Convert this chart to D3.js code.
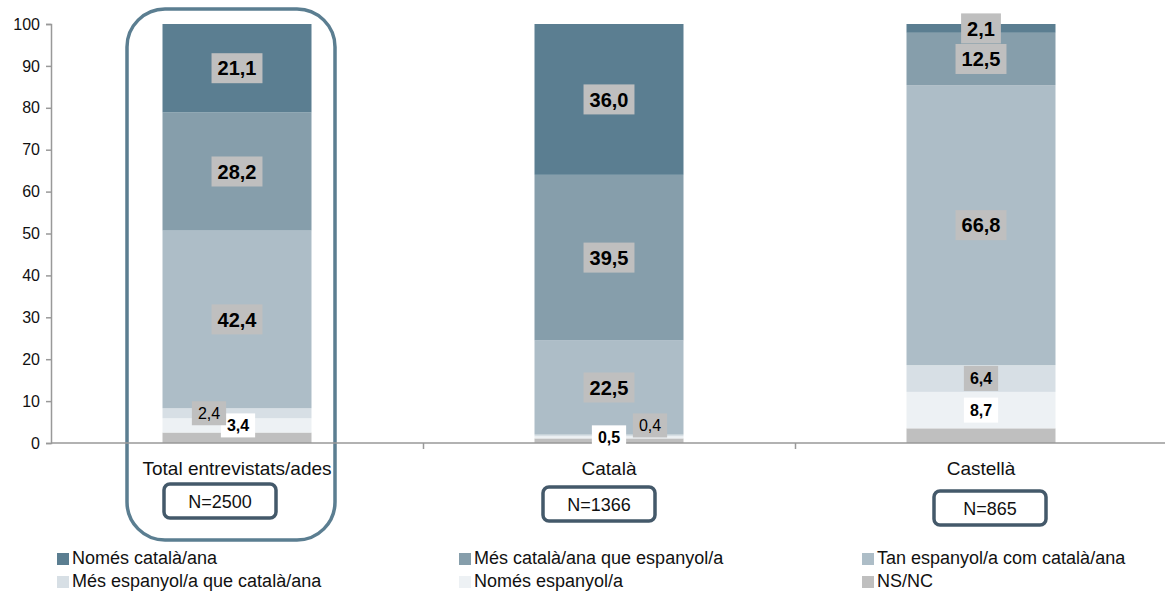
<!DOCTYPE html>
<html>
<head>
<meta charset="utf-8">
<script src="https://cdn.jsdelivr.net/npm/d3@7/dist/d3.min.js"></script>
<style>
  html, body { margin: 0; padding: 0; background: #fff; }
  svg { display: block; font-family: "Liberation Sans", Arial, sans-serif; }
</style>
</head>
<body>
<svg id="chart" width="1165" height="591"></svg>
<script>
// ---- Data ----
const categories = ["Total entrevistats/ades", "Català", "Castellà"];
const sampleSizes = ["N=2500", "N=1366", "N=865"];
const seriesNames = ["Només català/ana", "Més català/ana que espanyol/a", "Tan espanyol/a com català/ana",
                     "Més espanyol/a que català/ana", "Només espanyol/a", "NS/NC"];
const nomesCatala   = [21.1, 36.0, 2.1];
const mesCatala     = [28.2, 39.5, 12.5];
const tanEspCat     = [42.4, 22.5, 66.8];
const mesEspanyol   = [2.4, 0.4, 6.4];
const nomesEspanyol = [3.4, 0.5, 8.7];
const nsnc          = [2.5, 1.1, 3.5];
const yTicks = [0, 10, 20, 30, 40, 50, 60, 70, 80, 90, 100];

// ---- Styles ----
const colors = ["#5b7e91", "#869eab", "#adbdc7", "#d7dfe5", "#edf1f4", "#bfbfbf"];
const seriesValues = [nomesCatala, mesCatala, tanEspCat, mesEspanyol, nomesEspanyol, nsnc];
// stacking order bottom -> top
const stackOrder = [5, 4, 3, 2, 1, 0];

const svg = d3.select("#chart");
const W = 1165, H = 591;
svg.append("rect").attr("width", W).attr("height", H).attr("fill", "#fff");

const x = d3.scaleBand().domain(categories).range([51, 1167]).paddingInner(0).paddingOuter(0);
const y = d3.scaleLinear().domain([0, 100]).range([443, 24]);
const barW = 149;

// rows for stack
const rows = categories.map((c, i) => {
  const r = { cat: c };
  seriesNames.forEach((s, k) => r[s] = seriesValues[k][i]);
  return r;
});
const stack = d3.stack().keys(stackOrder.map(k => seriesNames[k]));
const stacked = stack(rows);

// Highlight rounded rect around first category
const c0 = x(categories[0]) + x.bandwidth() / 2;
svg.append("rect")
  .attr("x", c0 - 110).attr("y", 9).attr("width", 208).attr("height", 531)
  .attr("rx", 38).attr("ry", 38)
  .attr("fill", "none").attr("stroke", "#5b7e91").attr("stroke-width", 3.5);

// Bars
const gBars = svg.append("g");
stacked.forEach(layer => {
  const k = seriesNames.indexOf(layer.key);
  gBars.selectAll(null).data(layer).enter().append("rect")
    .attr("x", d => x(d.data.cat) + x.bandwidth() / 2 - barW / 2)
    .attr("width", barW)
    .attr("y", d => y(d[1]))
    .attr("height", d => y(d[0]) - y(d[1]))
    .attr("fill", colors[k]);
});

// Axes
const yAxis = d3.axisLeft(y).tickValues(yTicks).tickSize(5).tickPadding(6);
const gy = svg.append("g").attr("transform", "translate(51,0)").call(yAxis);
gy.select(".domain").attr("stroke", "#999").attr("stroke-width", 1.5);
gy.selectAll(".tick line").attr("stroke", "#999").attr("stroke-width", 1.5);
gy.selectAll(".tick text").attr("font-size", 16).attr("fill", "#111")
  .attr("font-family", "Liberation Sans, Arial, sans-serif");

// x axis line with separators
svg.append("line").attr("x1", 51).attr("x2", 1165).attr("y1", 443).attr("y2", 443)
  .attr("stroke", "#999").attr("stroke-width", 1.5);
categories.slice(1).forEach(c => {
  svg.append("line").attr("x1", x(c) + 0.5).attr("x2", x(c) + 0.5).attr("y1", 443).attr("y2", 449)
    .attr("stroke", "#999").attr("stroke-width", 1.5);
});

// Category labels
svg.append("g").selectAll("text").data(categories).enter().append("text")
  .attr("x", d => x(d) + x.bandwidth() / 2)
  .attr("y", 475)
  .attr("text-anchor", "middle")
  .attr("font-size", 19)
  .attr("fill", "#111")
  .text(d => d);

// N boxes
const nBoxOffset = [{ dx: -17, y: 484 }, { dx: -10, y: 487 }, { dx: 9, y: 491 }];
sampleSizes.forEach((t, i) => {
  const cx = x(categories[i]) + x.bandwidth() / 2 + nBoxOffset[i].dx;
  const top = nBoxOffset[i].y;
  svg.append("rect").attr("x", cx - 56).attr("y", top).attr("width", 112).attr("height", 34)
    .attr("rx", 6).attr("fill", "#fff").attr("stroke", "#44596a").attr("stroke-width", 3.5);
  svg.append("text").attr("x", cx).attr("y", top + 24).attr("text-anchor", "middle")
    .attr("font-size", 18).attr("fill", "#111").text(t.replace("=", "= ").replace("= ", "="));
});

// Value labels
// label styles per series: box fill, font weight, size
const labelStyle = {
  0: { fill: "#bfbfbf", weight: "bold", size: 20, h: 30 },
  1: { fill: "#bfbfbf", weight: "bold", size: 20, h: 30 },
  2: { fill: "#bfbfbf", weight: "bold", size: 20, h: 30 },
  3: { fill: "#bfbfbf", weight: "normal", size: 16, h: 24 },
  4: { fill: "#ffffff", weight: "bold", size: 16, h: 24 }
};
// manual label nudges (pixels) for tiny segments: [series][category]
const labelNudge = {
  3: [{ dx: -28, dy: 0, weight: "normal" }, { dx: 41, dy: -10, weight: "normal" }, { dx: 0, dy: 0, weight: "bold", h: 25 }],
  4: [{ dx: 1, dy: 0 }, { dx: 0, dy: 0 }, { dx: 0, dy: 0, h: 25 }]
};
const fmt = v => v.toFixed(1).replace(".", ",");
const gLab = svg.append("g");
stacked.forEach(layer => {
  const k = seriesNames.indexOf(layer.key);
  if (!(k in labelStyle)) return;
  layer.forEach((d, i) => {
    const st = Object.assign({}, labelStyle[k], (labelNudge[k] || [])[i] || {});
    const cx = x(d.data.cat) + x.bandwidth() / 2 + (st.dx || 0);
    const cy = y((d[0] + d[1]) / 2) + (st.dy || 0);
    const g = gLab.append("g");
    const r = g.append("rect").attr("fill", st.fill);
    const t = g.append("text").attr("x", cx).attr("y", cy + st.size * 0.36)
      .attr("text-anchor", "middle").attr("font-size", st.size)
      .attr("font-weight", st.weight).attr("fill", "#000").text(fmt(d.data[layer.key]));
    const w = t.node().getComputedTextLength() + 12;
    r.attr("x", cx - w / 2).attr("y", cy - st.h / 2).attr("width", w).attr("height", st.h);
  });
});

// Legend
const legendPos = [
  { x: 57, y: 564 }, { x: 459, y: 564 }, { x: 862, y: 564 },
  { x: 57, y: 587 }, { x: 459, y: 587 }, { x: 862, y: 587 }
];
const gLeg = svg.append("g");
seriesNames.forEach((s, k) => {
  const p = legendPos[k];
  gLeg.append("rect").attr("x", p.x).attr("y", p.y - 11).attr("width", 12).attr("height", 12)
    .attr("fill", colors[k]);
  gLeg.append("text").attr("x", p.x + 15).attr("y", p.y).attr("font-size", 18)
    .attr("fill", "#111").text(s);
});
</script>
</body>
</html>
